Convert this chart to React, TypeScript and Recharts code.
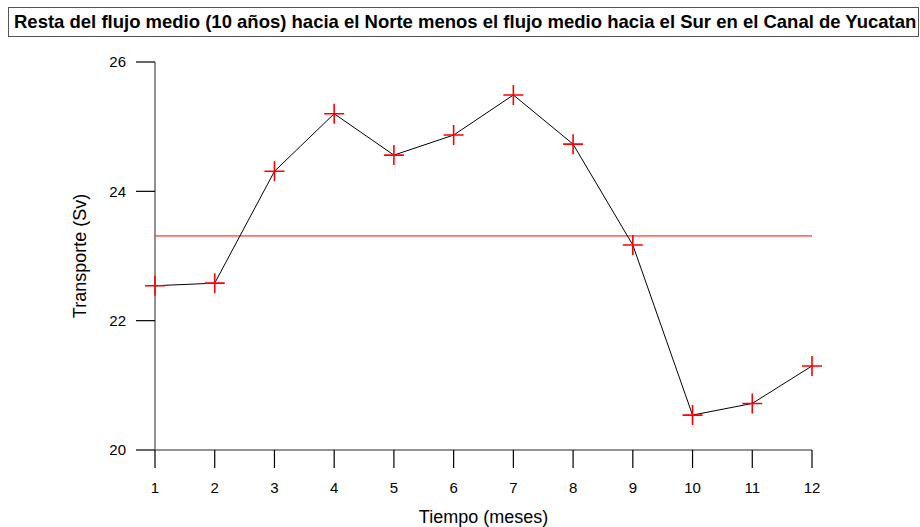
import React from 'react';
import {
  ComposedChart,
  Line,
  XAxis,
  YAxis,
  ReferenceLine
} from 'recharts';

// months and mean transport (Sv)
const months = [1, 2, 3, 4, 5, 6, 7, 8, 9, 10, 11, 12];
const transport = [22.54, 22.58, 24.31, 25.2, 24.56, 24.87, 25.49, 24.73, 23.17, 20.54, 20.72, 21.3];
const meanTransport = 23.31;

const xMajorTicks = [1, 2, 3, 4, 5, 6, 7, 8, 9, 10, 11, 12];
const xMinorTicks = [1.5, 2.5, 3.5, 4.5, 5.5, 6.5, 7.5, 8.5, 9.5, 10.5, 11.5];
const yMajorTicks = [20, 22, 24, 26];
const yMinorTicks = [21, 23, 25];

const title =
  'Resta del flujo medio (10 años) hacia el Norte menos el flujo medio hacia el Sur en el Canal de Yucatan';

const data = months.map((m, i) => ({ mes: m, sv: transport[i] }));

const FONT = '"Liberation Sans", Arial, Helvetica, sans-serif';
const AXIS_GRAY = '#6e6e6e';

const Cross = (props: any) => {
  const { cx, cy, index } = props;
  if (cx == null || cy == null) return <g key={`c-${index}`} />;
  const r = 10;
  return (
    <path
      key={`c-${index}`}
      d={`M${cx - r},${cy}H${cx + r}M${cx},${cy - r}V${cy + r}`}
      stroke="#ff0000"
      strokeWidth={1.6}
      fill="none"
    />
  );
};

const YLabel = (props: any) => {
  const vb = props.viewBox || {};
  const x = vb.x + 20;
  const y = vb.y + vb.height / 2;
  return (
    <text
      x={x}
      y={y}
      transform={`rotate(-90, ${x}, ${y})`}
      textAnchor="middle"
      dominantBaseline="central"
      fontFamily={FONT}
      fontSize={18}
      fill="#000"
    >
      Transporte (Sv)
    </text>
  );
};

const App: React.FC = () => {
  return (
    <div style={{ position: 'absolute', left: 0, top: 0, width: 920, height: 527, background: '#fff' }}>
      <div
        style={{
          position: 'absolute',
          left: 8,
          top: 7,
          width: 911,
          height: 30,
          border: '1.5px solid #555',
          boxSizing: 'border-box',
          fontFamily: FONT,
          fontWeight: 'bold',
          fontSize: 18.5,
          lineHeight: '27px',
          paddingLeft: 5,
          whiteSpace: 'nowrap',
          overflow: 'hidden',
          color: '#000'
        }}
      >
        {title}
      </div>
      <ComposedChart
        width={920}
        height={527}
        data={data}
        margin={{ top: 62, right: 108, left: 60, bottom: 0 }}
      >
        <XAxis
          xAxisId="main"
          type="number"
          dataKey="mes"
          domain={[1, 12]}
          ticks={xMajorTicks}
          interval={0}
          height={77}
          tickSize={18}
          tickMargin={14}
          axisLine={{ stroke: AXIS_GRAY, strokeWidth: 1.5 }}
          tickLine={{ stroke: '#000', strokeWidth: 1.2 }}
          tick={{ fill: '#000', fontSize: 15, fontFamily: FONT }}
          label={{
            value: 'Tiempo (meses)',
            position: 'insideBottom',
            offset: 4,
            fill: '#000',
            fontSize: 18,
            fontFamily: FONT
          }}
        />
        <XAxis
          xAxisId="minor"
          type="number"
          dataKey="mes"
          domain={[1, 12]}
          ticks={xMinorTicks}
          interval={0}
          height={0}
          tickSize={10}
          axisLine={false}
          tickLine={{ stroke: '#000', strokeWidth: 1.2 }}
          tick={false}
        />
        <YAxis
          yAxisId="main"
          type="number"
          domain={[20, 26]}
          ticks={yMajorTicks}
          interval={0}
          width={95}
          tickSize={19}
          tickMargin={10}
          axisLine={{ stroke: AXIS_GRAY, strokeWidth: 1.5 }}
          tickLine={{ stroke: '#000', strokeWidth: 1.2 }}
          tick={{ fill: '#000', fontSize: 15, fontFamily: FONT }}
          label={<YLabel />}
        />
        <YAxis
          yAxisId="minor"
          type="number"
          domain={[20, 26]}
          ticks={yMinorTicks}
          interval={0}
          width={0}
          tickSize={9}
          axisLine={false}
          tickLine={{ stroke: '#000', strokeWidth: 1.2 }}
          tick={false}
        />
        <ReferenceLine
          xAxisId="main"
          yAxisId="main"
          y={meanTransport}
          stroke="#ff0000"
          strokeWidth={1}
          ifOverflow="extendDomain"
        />
        <Line
          xAxisId="main"
          yAxisId="main"
          type="linear"
          dataKey="sv"
          stroke="#000"
          strokeWidth={1}
          dot={Cross}
          activeDot={false}
          isAnimationActive={false}
        />
      </ComposedChart>
    </div>
  );
};

export default App;
